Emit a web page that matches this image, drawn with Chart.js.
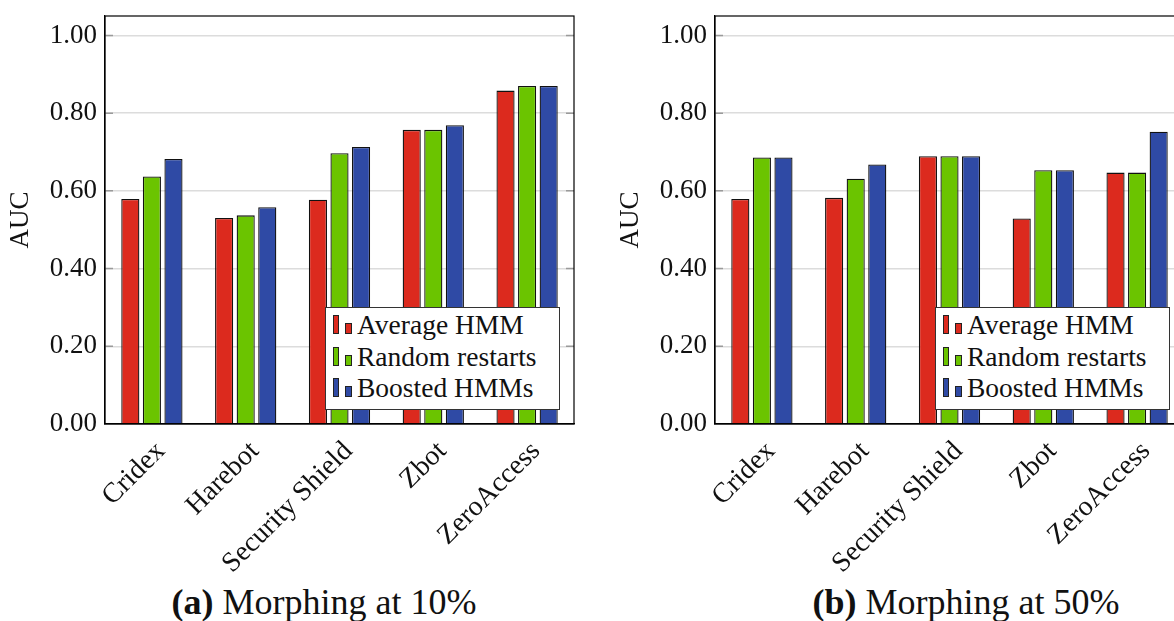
<!DOCTYPE html>
<html>
<head>
<meta charset="utf-8">
<script src="https://cdn.jsdelivr.net/npm/chart.js@4/dist/chart.umd.min.js"></script>
<style>
  html, body { margin: 0; padding: 0; background: #fff; }
  body { width: 1174px; height: 621px; overflow: hidden; position: relative; font-family: "Liberation Serif", serif; color: #111; }
  .panel { position: absolute; top: 0; width: 590px; height: 580px; }
  .panel canvas { position: absolute; left: 0; top: 0; }
  .legend { position: absolute; left: 325px; top: 307px; width: 235px; height: 103px; box-sizing: border-box;
            border: 1px solid #333; background: #fff; padding: 1px 0 0 7px; font-size: 27.5px; }
  .legend .row { height: 31.5px; line-height: 31.5px; white-space: nowrap; }
  .legend .ic { display: inline-block; border: 1px solid #222; box-sizing: border-box; vertical-align: baseline; }
  .legend .ic1 { width: 6px; height: 19px; margin-right: 6px; }
  .legend .ic2 { width: 7px; height: 11px; margin-right: 5px; }
  .caption { position: absolute; top: 581px; font-size: 36px; white-space: nowrap; transform: translateX(-50%); }
</style>
</head>
<body>
<div class="panel" id="p1" style="left:0px"><canvas id="c1" width="590" height="580"></canvas><div class="legend" id="l1"></div></div>
<div class="panel" id="p2" style="left:610px"><canvas id="c2" width="590" height="580"></canvas><div class="legend" id="l2"></div></div>
<div class="caption" style="left:324px"><b>(a)</b> Morphing at 10%</div>
<div class="caption" style="left:966px"><b>(b)</b> Morphing at 50%</div>
<script>
const categories = ['Cridex', 'Harebot', 'Security Shield', 'Zbot', 'ZeroAccess']
const seriesNames = ['Average HMM', 'Random restarts', 'Boosted HMMs']
const seriesColors = ['#dc2a1e', '#6bc400', '#2f4aa5']

// morphing at 10%
const avgHmm10 = [0.579, 0.530, 0.577, 0.757, 0.858]
const randomRestarts10 = [0.637, 0.537, 0.697, 0.757, 0.870]
const boosted10 = [0.682, 0.558, 0.713, 0.769, 0.870]

// morphing at 50%
const avgHmm50 = [0.579, 0.582, 0.689, 0.529, 0.647]
const randomRestarts50 = [0.686, 0.631, 0.689, 0.653, 0.647]
const boosted50 = [0.686, 0.668, 0.689, 0.653, 0.752]

const yTicks = [0, 0.2, 0.4, 0.6, 0.8, 1.0]

const font = { family: '"Liberation Serif", serif', size: 27 }
const xFont = { family: '"Liberation Serif", serif', size: 28 }

// frame on top/right + small inner tick marks like pgfplots
const framePlugin = {
    id: 'frame',
    afterDraw(chart) {
        const { ctx, chartArea: a, scales } = chart
        ctx.save()
        ctx.strokeStyle = '#9a9a9a'
        ctx.lineWidth = 1.5
        yTicks.slice(1).forEach(v => {
            const y = scales.y.getPixelForValue(v)
            ctx.beginPath()
            ctx.moveTo(a.left, y); ctx.lineTo(a.left + 8, y)
            ctx.moveTo(a.right - 8, y); ctx.lineTo(a.right, y)
            ctx.stroke()
        })
        ctx.strokeStyle = '#000'
        ctx.lineWidth = 1.2
        ctx.strokeRect(a.left, a.top, a.right - a.left, a.bottom - a.top)
        ctx.restore()
    }
}

function makeChart(id, values) {
    return new Chart(document.getElementById(id), {
        type: 'bar',
        data: {
            labels: categories,
            datasets: values.map((data, i) => ({
                label: seriesNames[i],
                data: data,
                backgroundColor: seriesColors[i],
                borderColor: '#111',
                borderWidth: 1.3,
                borderSkipped: 'start',
                categoryPercentage: 0.69,
                barPercentage: 0.84
            }))
        },
        options: {
            responsive: false,
            animation: false,
            devicePixelRatio: 1,
            layout: { padding: { top: 16, right: 16, left: 0, bottom: 0 } },
            plugins: {
                legend: { display: false },
                tooltip: { enabled: false }
            },
            scales: {
                x: {
                    grid: { display: false },
                    border: { color: '#000', width: 1.2 },
                    ticks: { font: xFont, color: '#111', minRotation: 45, maxRotation: 45, padding: 3, labelOffset: 9 },
                    afterFit: s => { s.height = 156; s.paddingLeft = 0; s.paddingRight = 0 }
                },
                y: {
                    min: 0,
                    max: 1.05,
                    grid: { color: '#dcdcdc', lineWidth: 1.5, drawTicks: false },
                    border: { color: '#000', width: 1.2 },
                    ticks: {
                        stepSize: 0.2,
                        includeBounds: false,
                        font: font,
                        color: '#111',
                        padding: 8,
                        callback: v => v.toFixed(2)
                    },
                    title: { display: true, text: 'AUC', font: font, color: '#111', padding: { top: 5, bottom: 0 } },
                    afterFit: s => { s.width = 105; s.paddingTop = 0; s.paddingBottom = 0 }
                }
            }
        },
        plugins: [framePlugin]
    })
}

function makeLegend(id) {
    const el = document.getElementById(id)
    seriesNames.forEach((name, i) => {
        const row = document.createElement('div')
        row.className = 'row'
        row.innerHTML = '<span class="ic ic1" style="background:' + seriesColors[i] + '"></span>' +
            '<span class="ic ic2" style="background:' + seriesColors[i] + '"></span>' + name
        el.appendChild(row)
    })
}

makeChart('c1', [avgHmm10, randomRestarts10, boosted10])
makeChart('c2', [avgHmm50, randomRestarts50, boosted50])
makeLegend('l1')
makeLegend('l2')
</script>
</body>
</html>
